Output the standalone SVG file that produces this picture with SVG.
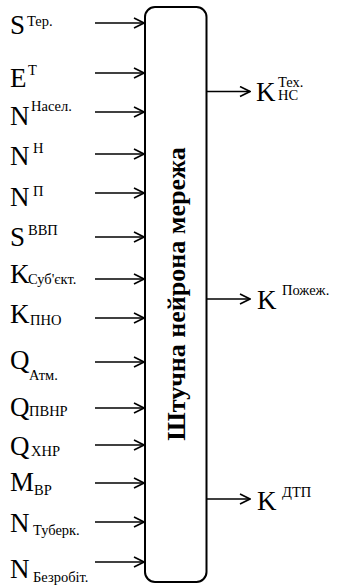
<svg xmlns="http://www.w3.org/2000/svg" width="340" height="585" viewBox="0 0 340 585">
<defs>
<marker id="ah" viewBox="0 0 12 12" refX="11" refY="6" markerWidth="12" markerHeight="12" markerUnits="userSpaceOnUse" orient="auto">
<path d="M1,1 L11,6 L1,11" fill="none" stroke="#000" stroke-width="1.6"/>
</marker>
</defs>
<rect width="340" height="585" fill="#fff"/>
<g id="network">
<rect x="145" y="7" width="61.5" height="575" rx="10" fill="#fff" stroke="#000" stroke-width="2"/>
<text style="font-family:'Liberation Serif',serif !important" font-size="26" font-weight="bold" text-anchor="middle" transform="translate(185,294) rotate(-90)">Штучна нейрона мережа</text>
</g>
<g id="connectors" stroke="#000" stroke-width="1.6" fill="none">
<line x1="95" y1="23" x2="144" y2="23" marker-end="url(#ah)"/>
<line x1="95" y1="73" x2="144" y2="73" marker-end="url(#ah)"/>
<line x1="95" y1="112" x2="144" y2="112" marker-end="url(#ah)"/>
<line x1="95" y1="154" x2="144" y2="154" marker-end="url(#ah)"/>
<line x1="95" y1="193" x2="144" y2="193" marker-end="url(#ah)"/>
<line x1="95" y1="237" x2="144" y2="237" marker-end="url(#ah)"/>
<line x1="95" y1="279" x2="144" y2="279" marker-end="url(#ah)"/>
<line x1="95" y1="318" x2="144" y2="318" marker-end="url(#ah)"/>
<line x1="95" y1="362" x2="144" y2="362" marker-end="url(#ah)"/>
<line x1="95" y1="408" x2="144" y2="408" marker-end="url(#ah)"/>
<line x1="95" y1="445" x2="144" y2="445" marker-end="url(#ah)"/>
<line x1="95" y1="483" x2="144" y2="483" marker-end="url(#ah)"/>
<line x1="95" y1="522" x2="144" y2="522" marker-end="url(#ah)"/>
<line x1="95" y1="562" x2="144" y2="562" marker-end="url(#ah)"/>
<line x1="207" y1="91.5" x2="250" y2="91.5" marker-end="url(#ah)"/>
<line x1="207" y1="299" x2="250" y2="299" marker-end="url(#ah)"/>
<line x1="207" y1="499" x2="250" y2="499" marker-end="url(#ah)"/>
</g>
<g id="in1"><text style="font-family:'Liberation Serif',serif !important" font-size="27" x="10" y="34">S</text><text style="font-family:'Liberation Serif',serif !important" font-size="14.5" x="27" y="25.5">Тер.</text></g>
<g id="in2"><text style="font-family:'Liberation Serif',serif !important" font-size="27" x="10" y="87">E</text><text style="font-family:'Liberation Serif',serif !important" font-size="14.5" x="28" y="75">Т</text></g>
<g id="in3"><text style="font-family:'Liberation Serif',serif !important" font-size="27" x="10" y="125">N</text><text style="font-family:'Liberation Serif',serif !important" font-size="14.5" x="31" y="111">Насел.</text></g>
<g id="in4"><text style="font-family:'Liberation Serif',serif !important" font-size="27" x="10" y="165">N</text><text style="font-family:'Liberation Serif',serif !important" font-size="14.5" x="33" y="153">Н</text></g>
<g id="in5"><text style="font-family:'Liberation Serif',serif !important" font-size="27" x="10" y="206">N</text><text style="font-family:'Liberation Serif',serif !important" font-size="14.5" x="33" y="196">П</text></g>
<g id="in6"><text style="font-family:'Liberation Serif',serif !important" font-size="27" x="10" y="246">S</text><text style="font-family:'Liberation Serif',serif !important" font-size="14.5" x="28" y="235">ВВП</text></g>
<g id="in7"><text style="font-family:'Liberation Serif',serif !important" font-size="27" x="10" y="283">K</text><text style="font-family:'Liberation Serif',serif !important" font-size="14.5" x="28" y="284">Суб'єкт.</text></g>
<g id="in8"><text style="font-family:'Liberation Serif',serif !important" font-size="27" x="10" y="323">K</text><text style="font-family:'Liberation Serif',serif !important" font-size="14.5" x="30" y="325">ПНО</text></g>
<g id="in9"><text style="font-family:'Liberation Serif',serif !important" font-size="27" x="10" y="369">Q</text><text style="font-family:'Liberation Serif',serif !important" font-size="14.5" x="29" y="380">Атм.</text></g>
<g id="in10"><text style="font-family:'Liberation Serif',serif !important" font-size="27" x="10" y="416">Q</text><text style="font-family:'Liberation Serif',serif !important" font-size="14.5" x="29" y="416">ПВНР</text></g>
<g id="in11"><text style="font-family:'Liberation Serif',serif !important" font-size="27" x="10" y="455">Q</text><text style="font-family:'Liberation Serif',serif !important" font-size="14.5" x="31" y="456">ХНР</text></g>
<g id="in12"><text style="font-family:'Liberation Serif',serif !important" font-size="27" x="10" y="491">M</text><text style="font-family:'Liberation Serif',serif !important" font-size="14.5" x="34" y="495">ВР</text></g>
<g id="in13"><text style="font-family:'Liberation Serif',serif !important" font-size="27" x="10" y="532">N</text><text style="font-family:'Liberation Serif',serif !important" font-size="14.5" x="33" y="535">Туберк.</text></g>
<g id="in14"><text style="font-family:'Liberation Serif',serif !important" font-size="27" x="10" y="578">N</text><text style="font-family:'Liberation Serif',serif !important" font-size="14.5" x="33" y="582">Безробіт.</text></g>
<g id="out1"><text style="font-family:'Liberation Serif',serif !important" font-size="27" x="256" y="100.5">K</text><text style="font-family:'Liberation Serif',serif !important" font-size="14.5" x="278" y="87">Тех.</text><text style="font-family:'Liberation Serif',serif !important" font-size="14.5" x="278" y="100">НС</text></g>
<g id="out2"><text style="font-family:'Liberation Serif',serif !important" font-size="27" x="257" y="309">K</text><text style="font-family:'Liberation Serif',serif !important" font-size="14.5" x="282" y="295">Пожеж.</text></g>
<g id="out3"><text style="font-family:'Liberation Serif',serif !important" font-size="27" x="257" y="510">K</text><text style="font-family:'Liberation Serif',serif !important" font-size="14.5" x="282" y="497">ДТП</text></g>
</svg>
